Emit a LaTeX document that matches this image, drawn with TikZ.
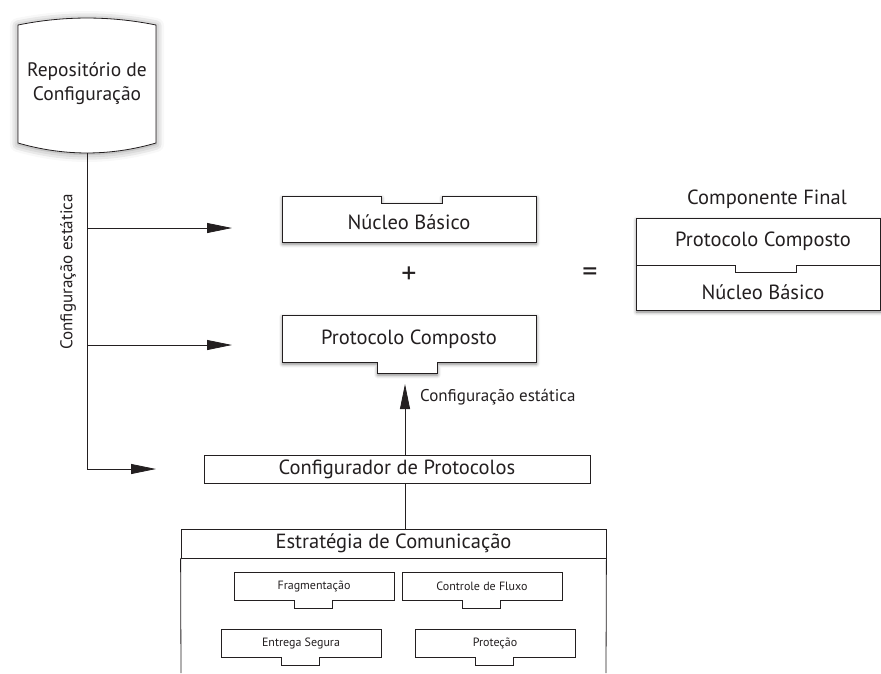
\documentclass[tikz,border=0pt]{standalone}
\usepackage{fontspec}
\setmainfont{PT Sans}
\usetikzlibrary{calc,arrows.meta,shadows.blur}

\definecolor{ink}{HTML}{231F20}
\newcommand\bigfs{\fontsize{20.5pt}{25pt}\selectfont}
\newcommand\repofs{\fontsize{19.5pt}{24pt}\selectfont}
\newcommand\signfs{\fontsize{30pt}{30pt}\selectfont}
\newcommand\midfs{\fontsize{17pt}{20pt}\selectfont}
\newcommand\smallfs{\fontsize{12pt}{14pt}\selectfont}

\tikzset{
  outline/.style={draw=ink, line width=0.8pt, fill=white},
  softshadow/.style={blur shadow={shadow xshift=0.5pt, shadow yshift=-2pt,
      shadow blur radius=3.5pt, shadow opacity=50}},
  glow/.style={blur shadow={shadow xshift=0pt, shadow yshift=-1pt,
      shadow blur radius=8pt, shadow opacity=45}},
  link/.style={draw=ink, line width=0.8pt},
  arrowlink/.style={link, -{Triangle[length=25pt,width=10pt]}},
  label/.style={text=ink, inner sep=0pt},
}

% module box with a notch hanging under its lower edge
\newcommand\modbox[4]{%
  \draw[outline] (#2,#3) -- ++(160,0) -- ++(0,28) -- ++(-62,0) -- ++(0,8)
    -- ++(-38,0) -- ++(0,-8) -- ++(-60,0) -- cycle;
  \node[label, font=\smallfs] (#1) at ($(#2,#3)+(80,14)$) {#4};}

\begin{document}
\begin{tikzpicture}[x=1pt, y=-1pt]
\useasboundingbox (0,0) rectangle (881,673);

% configuration repository
\draw[outline, glow] (18,25) .. controls (64,15.7) and (110,15.7) .. (156,25)
  -- (156,143) .. controls (110,156.3) and (64,156.3) .. (18,143) -- cycle;
\node[label, font=\repofs, align=center] (repo) at (87,84) {Repositório de\\Configuração};
\coordinate (repobot) at (87,153);

% static configuration trunk and its branches
\coordinate (t1) at (87,228);
\coordinate (t2) at (87,345);
\coordinate (a1) at (232,228);
\coordinate (a2) at (232,345);
\coordinate (a3) at (156,469);
\draw[arrowlink] (repobot) |- (a3);
\draw[arrowlink] (t1) -- (a1);
\draw[arrowlink] (t2) -- (a2);
\node[label, font=\midfs, rotate=90] (trunklabel) at (68,272) {Configuração estática};

% basic core
\draw[outline, softshadow] (282,196) -- (381,196) -- (381,203) -- (442,203)
  -- (442,196) -- (536,196) -- (536,242) -- (282,242) -- cycle;
\node[label, font=\bigfs] (nucleo) at (409,222) {Núcleo Básico};

\node[label, font=\signfs] (plus) at (409,275) {+};
\node[label, font=\signfs] (equals) at (590,275) {=};

% composite protocol
\draw[outline, softshadow] (282,315) -- (536,315) -- (536,362) -- (437,362)
  -- (437,373) -- (377,373) -- (377,362) -- (282,362) -- cycle;
\node[label, font=\bigfs] (proto) at (409,339) {Protocolo Composto};

% final component
\node[label, font=\bigfs] (cftitle) at (767,199) {Componente Final};
\draw[outline, softshadow] (636,218) rectangle (880,310);
\draw[link] (636,265) -- (735,265) -- (735,272) -- (796,272) -- (796,265) -- (880,265);
\node[label, font=\bigfs] (cfproto) at (763,241) {Protocolo Composto};
\node[label, font=\bigfs] (cfnucleo) at (763,292) {Núcleo Básico};

% protocol configurator
\node[outline, label, font=\bigfs, minimum width=386pt, minimum height=28pt]
  (conf) at (397,469) {Configurador de Protocolos};
\coordinate (upend) at (405,384);
\draw[arrowlink] (upend |- conf.north) -- (upend);
\node[label, font=\midfs, anchor=west] (uplabel) at (420,397) {Configuração estática};

% communication strategy
\node[outline, label, font=\bigfs, minimum width=425pt, minimum height=29pt]
  (est) at (393.5,543.5) {Estratégia de Comunicação};
\draw[link] (est.south west) -- (181,673);
\draw[link] (est.south east) -- (606,673);
\draw[link] (conf.south -| upend) -- (est.north -| upend);

\modbox{frag}{234}{572}{Fragmentação}
\modbox{fluxo}{402}{572}{Controle de Fluxo}
\modbox{entrega}{221}{629}{Entrega Segura}
\modbox{protecao}{415}{629}{Proteção}
\end{tikzpicture}
\end{document}
